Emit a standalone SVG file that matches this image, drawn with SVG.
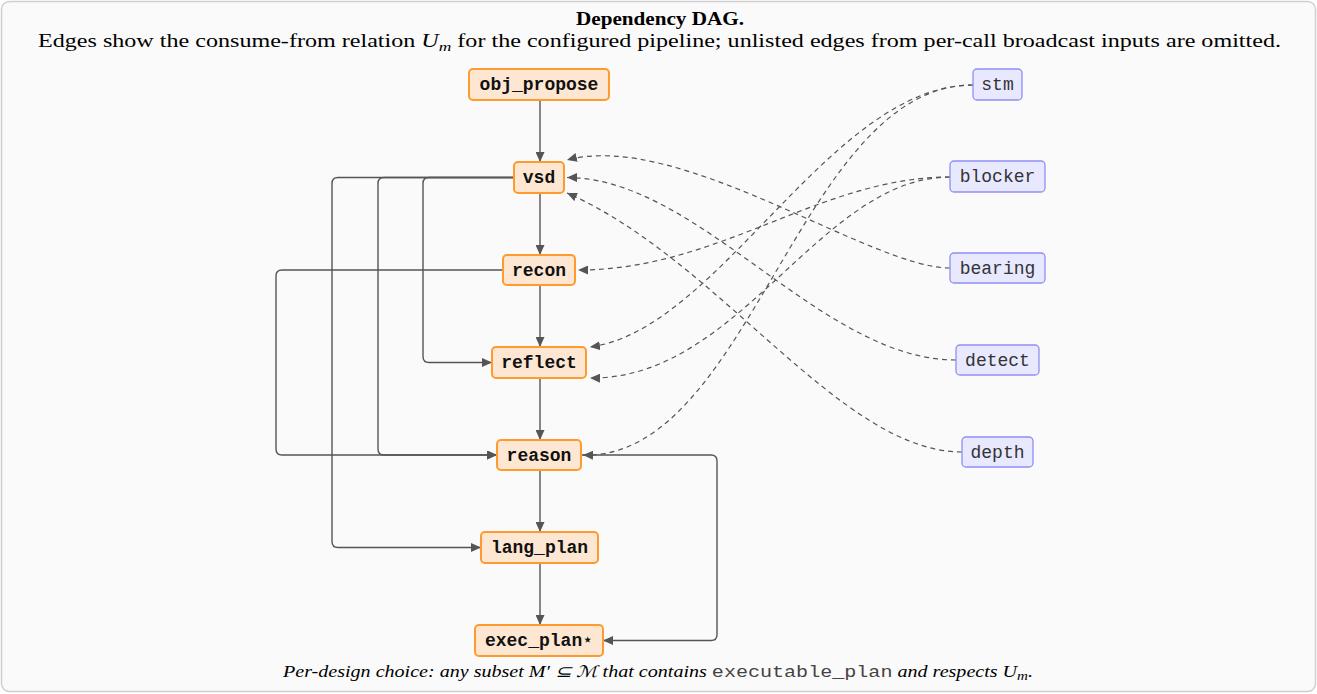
<svg xmlns="http://www.w3.org/2000/svg" width="1317" height="694" viewBox="0 0 1317 694">
  <style>
    .title { font-family: "Liberation Serif", serif; font-weight: bold; font-size: 19px; fill: #000; }
    .sub { font-family: "Liberation Serif", serif; font-size: 18px; fill: #000; }
    .foot { font-family: "Liberation Serif", serif; font-style: italic; font-size: 16px; fill: #000; }
    .mono { font-family: "Liberation Mono", monospace; font-style: normal; font-size: 16px; fill: #444; }
    .mod rect { fill: #fee7d2; stroke: #ff9a2e; stroke-width: 2; }
    .mod text { font-family: "Liberation Mono", monospace; font-weight: bold; font-size: 18px; fill: #111; text-anchor: middle; dominant-baseline: central; }
    .inp rect { fill: #e8e8ff; stroke: #8f8ff5; stroke-width: 1.3; }
    .inp text { font-family: "Liberation Mono", monospace; font-size: 18px; fill: #333; text-anchor: middle; dominant-baseline: central; }
    .edge { fill: none; stroke: #555; stroke-width: 1.4; marker-end: url(#arrow); }
    .dep { fill: none; stroke: #555; stroke-width: 1.2; stroke-dasharray: 5 4; marker-end: url(#arrow); }
  </style>
  <defs>
    <marker id="arrow" markerUnits="userSpaceOnUse" markerWidth="11" markerHeight="9" refX="10" refY="4.5" orient="auto">
      <path d="M0,0 L10,4.5 L0,9 z" fill="#555" stroke="none"/>
    </marker>
  </defs>

  <!-- frame -->
  <rect x="1.5" y="1.5" width="1314" height="690" rx="8" fill="#fafafa" stroke="#cfcfcf" stroke-width="1.5"/>

  <!-- headings -->
  <text class="title" x="576" y="25" textLength="168" lengthAdjust="spacingAndGlyphs">Dependency DAG.</text>
  <text class="sub" x="38" y="47" textLength="1243" lengthAdjust="spacingAndGlyphs">Edges show the consume-from relation <tspan font-style="italic">U</tspan><tspan font-style="italic" font-size="13" dy="4">m</tspan><tspan dy="-4"> for the configured pipeline; unlisted edges from per-call broadcast inputs are omitted.</tspan></text>

  <!-- connectors -->
  <g id="connectors">
    <!-- main chain -->
    <path class="edge" d="M540,100 V162"/>
    <path class="edge" d="M540,193 V255"/>
    <path class="edge" d="M540,285 V347"/>
    <path class="edge" d="M540,378 V440"/>
    <path class="edge" d="M540,470 V532"/>
    <path class="edge" d="M540,563 V625"/>
    <!-- skip edges on the left -->
    <path class="edge" d="M514,177.5 H338 Q332,177.5 332,183.5 V541.5 Q332,547.5 338,547.5 H481"/>
    <path class="edge" d="M514,177.5 H384 Q378,177.5 378,183.5 V449 Q378,455 384,455 H497"/>
    <path class="edge" d="M514,177.5 H429 Q423,177.5 423,183.5 V356.5 Q423,362.5 429,362.5 H492"/>
    <path class="edge" d="M503,270 H282 Q276,270 276,276 V449 Q276,455 282,455 H497"/>
    <!-- reason to exec_plan on the right -->
    <path class="edge" d="M581,455 H711 Q717,455 717,461 V634.5 Q717,640.5 711,640.5 H603"/>
    <!-- broadcast inputs -->
    <path class="dep" d="M973,85 C830,85 720,330 590,347"/>
    <path class="dep" d="M973,85 C800,85 750,460 583,455"/>
    <path class="dep" d="M950,177 C820,177 720,270 578,270"/>
    <path class="dep" d="M950,177 C820,177 740,380 590,378"/>
    <path class="dep" d="M950,268 C870,268 680,130 567,160"/>
    <path class="dep" d="M956,360 C820,360 700,178 567,177.5"/>
    <path class="dep" d="M962,452 C840,452 720,260 567,193"/>
  </g>

  <!-- pipeline modules -->
  <g id="obj_propose" class="mod"><rect x="469" y="69" width="140" height="31" rx="4"/><text x="539" y="85">obj_propose</text></g>
  <g id="vsd" class="mod"><rect x="514" y="162" width="50" height="31" rx="4"/><text x="539" y="178">vsd</text></g>
  <g id="recon" class="mod"><rect x="503" y="255" width="72" height="30" rx="4"/><text x="539" y="270.5">recon</text></g>
  <g id="reflect" class="mod"><rect x="492" y="347" width="94" height="31" rx="4"/><text x="539" y="363">reflect</text></g>
  <g id="reason" class="mod"><rect x="497" y="440" width="84" height="30" rx="4"/><text x="539" y="455.5">reason</text></g>
  <g id="lang_plan" class="mod"><rect x="481" y="532" width="117" height="31" rx="4"/><text x="539.5" y="548">lang_plan</text></g>
  <g id="exec_plan" class="mod"><rect x="475" y="625" width="128" height="31" rx="4"/><text x="539" y="641">exec_plan⋆</text></g>

  <!-- broadcast inputs -->
  <g id="stm" class="inp"><rect x="973" y="69" width="49" height="31" rx="4"/><text x="997.5" y="85">stm</text></g>
  <g id="blocker" class="inp"><rect x="950" y="161" width="95" height="31" rx="4"/><text x="997.5" y="177">blocker</text></g>
  <g id="bearing" class="inp"><rect x="950" y="253" width="95" height="30" rx="4"/><text x="997.5" y="268.5">bearing</text></g>
  <g id="detect" class="inp"><rect x="956" y="345" width="83" height="30" rx="4"/><text x="997.5" y="360.5">detect</text></g>
  <g id="depth" class="inp"><rect x="962" y="437" width="71" height="30" rx="4"/><text x="997.5" y="452.5">depth</text></g>

  <!-- caption -->
  <text class="foot" x="283" y="677" textLength="750" lengthAdjust="spacingAndGlyphs">Per-design choice:  any subset <tspan>M′ ⊆ ℳ</tspan> that contains <tspan class="mono">executable_plan</tspan> and respects <tspan>U</tspan><tspan font-size="12" dy="3">m</tspan><tspan dy="-3">.</tspan></text>
</svg>
